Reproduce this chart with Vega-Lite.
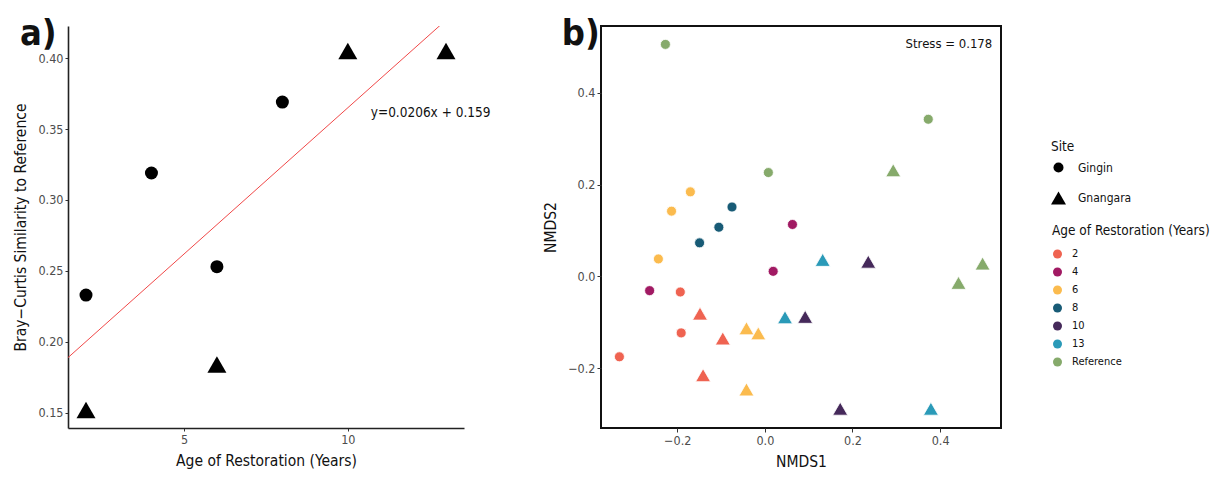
{
  "$schema": "https://vega.github.io/schema/vega-lite/v6.json",
  "padding": {"left": 13, "top": 15, "right": 4, "bottom": 4},
  "background": "white",
  "config": {
    "font": "DejaVu Sans Condensed, sans-serif",
    "axis": {
      "grid": false,
      "labelFont": "DejaVu Sans Condensed, sans-serif",
      "labelFontSize": 12.5,
      "labelColor": "#4d4d4d",
      "titleFont": "DejaVu Sans Condensed, sans-serif",
      "titleFontSize": 15.5,
      "titleFontWeight": "normal",
      "titleColor": "#111111",
      "tickColor": "#333333",
      "tickSize": 3,
      "labelPadding": 2,
      "domainColor": "#222222",
      "domainWidth": 1.6
    },
    "legend": {
      "titleFont": "DejaVu Sans Condensed, sans-serif",
      "titleFontSize": 13.5,
      "titleFontWeight": "normal",
      "titleColor": "#111111",
      "labelFont": "DejaVu Sans Condensed, sans-serif",
      "labelFontSize": 11,
      "labelColor": "#111111",
      "padding": 0
    },
    "title": {
      "font": "DejaVu Sans Condensed, sans-serif",
      "fontSize": 36,
      "fontWeight": "bold",
      "color": "#111111",
      "anchor": "start",
      "frame": "bounds",
      "baseline": "top"
    }
  },
  "datasets": {
    "sim": [
      {"age": 2, "site": "Gingin", "similarity": 0.233},
      {"age": 4, "site": "Gingin", "similarity": 0.319},
      {"age": 6, "site": "Gingin", "similarity": 0.253},
      {"age": 8, "site": "Gingin", "similarity": 0.369},
      {"age": 2, "site": "Gnangara", "similarity": 0.152},
      {"age": 6, "site": "Gnangara", "similarity": 0.184},
      {"age": 10, "site": "Gnangara", "similarity": 0.405},
      {"age": 13, "site": "Gnangara", "similarity": 0.405}
    ],
    "fit": [
      {"age": 1.45, "similarity": 0.1889},
      {"age": 13.55, "similarity": 0.4381}
    ],
    "eq": [
      {"age": 12.53, "similarity": 0.3615, "label": "y=0.0206x + 0.159"}
    ],
    "nmds": [
      {"NMDS1": -0.227, "NMDS2": 0.505, "site": "Gingin", "age": "Reference"},
      {"NMDS1": 0.373, "NMDS2": 0.342, "site": "Gingin", "age": "Reference"},
      {"NMDS1": 0.008, "NMDS2": 0.226, "site": "Gingin", "age": "Reference"},
      {"NMDS1": 0.293, "NMDS2": 0.231, "site": "Gnangara", "age": "Reference"},
      {"NMDS1": 0.442, "NMDS2": -0.014, "site": "Gnangara", "age": "Reference"},
      {"NMDS1": 0.497, "NMDS2": 0.028, "site": "Gnangara", "age": "Reference"},
      {"NMDS1": -0.170, "NMDS2": 0.184, "site": "Gingin", "age": "6"},
      {"NMDS1": -0.213, "NMDS2": 0.142, "site": "Gingin", "age": "6"},
      {"NMDS1": -0.243, "NMDS2": 0.038, "site": "Gingin", "age": "6"},
      {"NMDS1": -0.042, "NMDS2": -0.113, "site": "Gnangara", "age": "6"},
      {"NMDS1": -0.015, "NMDS2": -0.124, "site": "Gnangara", "age": "6"},
      {"NMDS1": -0.042, "NMDS2": -0.246, "site": "Gnangara", "age": "6"},
      {"NMDS1": -0.075, "NMDS2": 0.151, "site": "Gingin", "age": "8"},
      {"NMDS1": -0.105, "NMDS2": 0.107, "site": "Gingin", "age": "8"},
      {"NMDS1": -0.149, "NMDS2": 0.073, "site": "Gingin", "age": "8"},
      {"NMDS1": 0.063, "NMDS2": 0.113, "site": "Gingin", "age": "4"},
      {"NMDS1": 0.019, "NMDS2": 0.011, "site": "Gingin", "age": "4"},
      {"NMDS1": -0.263, "NMDS2": -0.031, "site": "Gingin", "age": "4"},
      {"NMDS1": -0.193, "NMDS2": -0.034, "site": "Gingin", "age": "2"},
      {"NMDS1": -0.191, "NMDS2": -0.123, "site": "Gingin", "age": "2"},
      {"NMDS1": -0.332, "NMDS2": -0.175, "site": "Gingin", "age": "2"},
      {"NMDS1": -0.148, "NMDS2": -0.081, "site": "Gnangara", "age": "2"},
      {"NMDS1": -0.096, "NMDS2": -0.135, "site": "Gnangara", "age": "2"},
      {"NMDS1": -0.141, "NMDS2": -0.215, "site": "Gnangara", "age": "2"},
      {"NMDS1": 0.236, "NMDS2": 0.032, "site": "Gnangara", "age": "10"},
      {"NMDS1": 0.092, "NMDS2": -0.088, "site": "Gnangara", "age": "10"},
      {"NMDS1": 0.172, "NMDS2": -0.288, "site": "Gnangara", "age": "10"},
      {"NMDS1": 0.132, "NMDS2": 0.036, "site": "Gnangara", "age": "13"},
      {"NMDS1": 0.046, "NMDS2": -0.089, "site": "Gnangara", "age": "13"},
      {"NMDS1": 0.379, "NMDS2": -0.288, "site": "Gnangara", "age": "13"}
    ],
    "stress": [
      {"NMDS1": 0.519, "NMDS2": 0.506, "label": "Stress = 0.178"}
    ]
  },
  "spacing": 51,
  "resolve": {
    "scale": {"shape": "independent", "size": "independent", "color": "independent"},
    "legend": {"shape": "independent", "size": "independent", "color": "independent"}
  },
  "hconcat": [
    {
      "width": 396,
      "height": 402,
      "view": {"stroke": null},
      "title": {"text": "a)", "offset": -27, "dx": 6},
      "layer": [
        {
          "data": {"name": "fit"},
          "mark": {"type": "line", "color": "#f04848", "strokeWidth": 1, "clip": true},
          "encoding": {
            "x": {"field": "age", "type": "quantitative"},
            "y": {"field": "similarity", "type": "quantitative"}
          }
        },
        {
          "data": {"name": "sim"},
          "mark": {"type": "point", "filled": true, "opacity": 1, "color": "black"},
          "encoding": {
            "x": {
              "field": "age", "type": "quantitative",
              "scale": {"domain": [1.45, 13.55], "nice": false, "zero": false},
              "axis": {"values": [5, 10], "title": "Age of Restoration (Years)", "titlePadding": 8}
            },
            "y": {
              "field": "similarity", "type": "quantitative",
              "scale": {"domain": [0.1393, 0.4226], "nice": false, "zero": false},
              "axis": {"values": [0.15, 0.2, 0.25, 0.3, 0.35, 0.4], "format": ".2f", "title": "Bray\u2212Curtis Similarity to Reference", "titlePadding": 9}
            },
            "shape": {
              "field": "site", "type": "nominal",
              "scale": {"domain": ["Gingin", "Gnangara"], "range": ["circle", "triangle-up"]},
              "legend": null
            },
            "size": {
              "field": "site", "type": "nominal",
              "scale": {"domain": ["Gingin", "Gnangara"], "range": [169, 361]},
              "legend": null
            }
          }
        },
        {
          "data": {"name": "eq"},
          "mark": {"type": "text", "fontSize": 13.5, "align": "center", "baseline": "middle", "color": "#111111", "clip": false},
          "encoding": {
            "x": {"field": "age", "type": "quantitative"},
            "y": {"field": "similarity", "type": "quantitative"},
            "text": {"field": "label"}
          }
        }
      ]
    },
    {
      "width": 400,
      "height": 402,
      "view": {"stroke": "#111111", "strokeWidth": 2},
      "title": {"text": "b)", "offset": -27, "dx": 18},
      "layer": [
        {
          "data": {"name": "nmds"},
          "mark": {"type": "point", "filled": true, "opacity": 1, "stroke": "white", "strokeWidth": 0.8},
          "encoding": {
            "x": {
              "field": "NMDS1", "type": "quantitative",
              "scale": {"domain": [-0.374, 0.539], "nice": false, "zero": false},
              "axis": {"values": [-0.2, 0, 0.2, 0.4], "format": ".1f", "title": "NMDS1", "domain": false, "titlePadding": 8, "tickSize": 4}
            },
            "y": {
              "field": "NMDS2", "type": "quantitative",
              "scale": {"domain": [-0.33, 0.545], "nice": false, "zero": false},
              "axis": {"values": [-0.2, 0, 0.2, 0.4], "format": ".1f", "title": "NMDS2", "domain": false, "titlePadding": 9, "tickSize": 4}
            },
            "shape": {
              "field": "site", "type": "nominal",
              "scale": {"domain": ["Gingin", "Gnangara"], "range": ["circle", "triangle-up"]},
              "legend": {"title": "Site", "orient": "none", "legendX": 450, "legendY": 114, "rowPadding": 17, "labelFontSize": 12, "labelOffset": 12, "symbolFillColor": "black", "symbolStrokeColor": "black", "symbolStrokeWidth": 0, "titlePadding": 8}
            },
            "size": {
              "field": "site", "type": "nominal",
              "scale": {"domain": ["Gingin", "Gnangara"], "range": [100, 225]},
              "legend": {"title": "Site", "orient": "none", "legendX": 450, "legendY": 114, "rowPadding": 17, "labelFontSize": 12, "labelOffset": 12, "symbolFillColor": "black", "symbolStrokeColor": "black", "symbolStrokeWidth": 0, "titlePadding": 8}
            },
            "color": {
              "field": "age", "type": "nominal",
              "scale": {
                "domain": ["2", "4", "6", "8", "10", "13", "Reference"],
                "range": ["#ef6351", "#a11a63", "#fbbb4e", "#185b76", "#45295a", "#2a9ab8", "#86aa6b"]
              },
              "legend": {"title": "Age of Restoration (Years)", "orient": "none", "legendX": 451, "legendY": 198, "symbolType": "circle", "symbolSize": 81, "symbolStrokeWidth": 0, "rowPadding": 6, "labelOffset": 9, "titlePadding": 11}
            }
          }
        },
        {
          "data": {"name": "stress"},
          "mark": {"type": "text", "fontSize": 13, "align": "right", "baseline": "middle", "color": "#111111"},
          "encoding": {
            "x": {"field": "NMDS1", "type": "quantitative"},
            "y": {"field": "NMDS2", "type": "quantitative"},
            "text": {"field": "label"}
          }
        }
      ]
    }
  ]
}
